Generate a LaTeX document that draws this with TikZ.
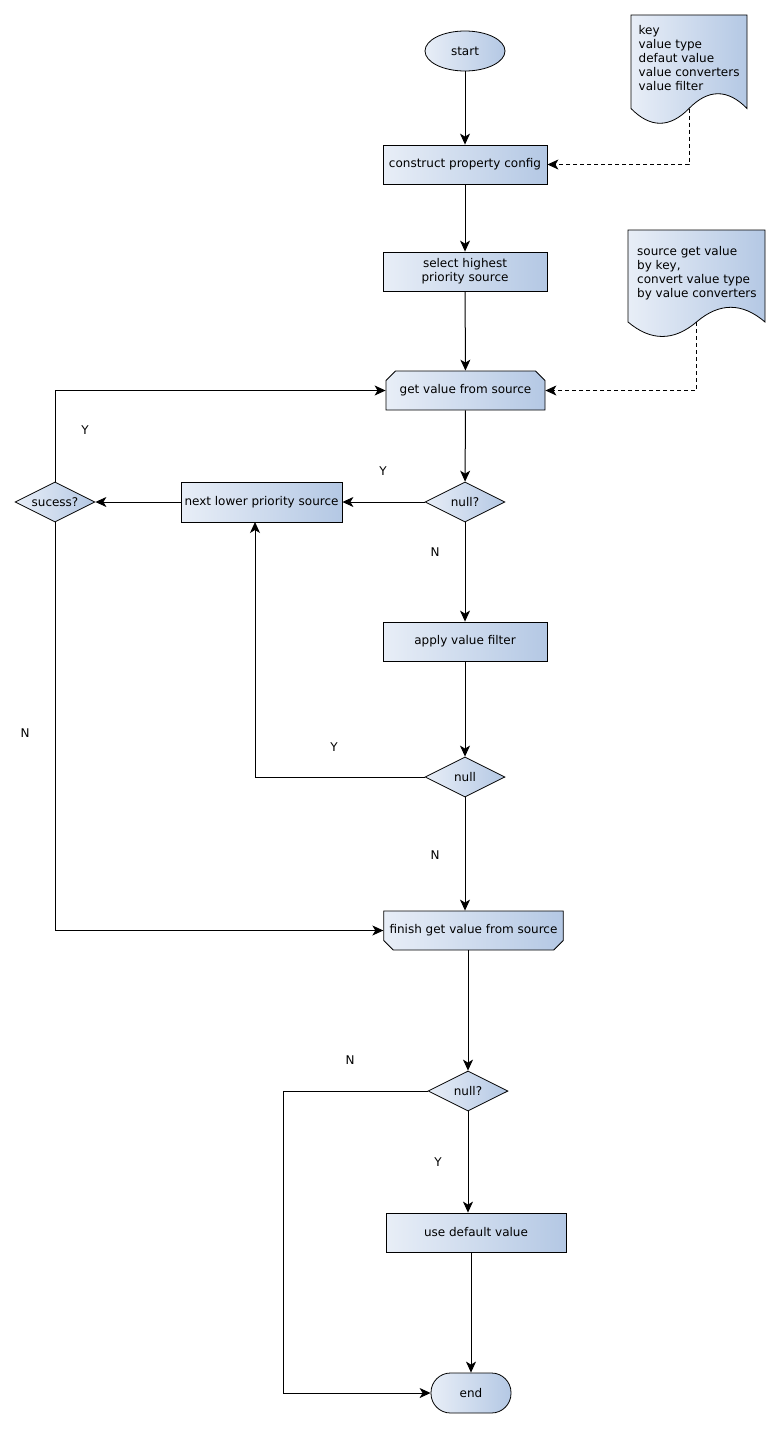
\documentclass[tikz,border=0pt]{standalone}
\usepackage{fontspec}
\setmainfont{DejaVu Sans}
\usetikzlibrary{shapes.geometric,shapes.misc,arrows.meta}
\definecolor{fillL}{HTML}{E8EEF7}
\definecolor{fillR}{HTML}{B4C8E4}
\tikzset{
  arr/.style={-{Stealth[length=11pt,width=10pt,inset=3pt]}, line width=1pt},
  shade/.style={draw, line width=0.8pt, left color=fillL, right color=fillR},
  box/.style={shade, inner sep=0pt, font=\fontsize{12}{14}\selectfont},
  proc/.style={box, rectangle, minimum width=164pt, minimum height=39pt, align=center},
  dec/.style={box, diamond, aspect=2, minimum width=80pt, minimum height=40pt},
  lbl/.style={font=\fontsize{12}{14}\selectfont},
}
\begin{document}
\begin{tikzpicture}[x=1pt, y=-1pt]
  \useasboundingbox (0,0) rectangle (781,1429);

  % notes
  \draw[shade] (631,15) -- (747,15) -- (747,108.5)
    .. controls (727.7,88.8) and (708.3,88.8) .. (689,108.5)
    .. controls (669.7,128.2) and (650.3,128.2) .. (631,108.5) -- cycle;
  \node[lbl, align=left, anchor=north west, inner sep=0pt] (keys) at (638.5,25)
    {key\\value type\\defaut value\\value converters\\value filter};
  \coordinate (keyb) at (689,108.5);

  \draw[shade] (628,230) -- (765,230) -- (765,322)
    .. controls (742.2,302.4) and (719.3,302.4) .. (696.5,322)
    .. controls (673.7,341.3) and (650.8,341.3) .. (628,322) -- cycle;
  \node[lbl, align=left, anchor=north west, inner sep=0pt] (srcnote) at (637,246.5)
    {source get value\\by key,\\convert value type\\by value converters};
  \coordinate (srcb) at (696.5,322);

  % flow
  \node[box, ellipse, minimum width=80pt, minimum height=40pt] (start) at (465,51) {start};
  \node[proc] (cfg) at (465,164.5) {construct property config};
  \node[proc] (sel) at (465,271.5) {select highest\\priority source};
  \node[box, chamfered rectangle, chamfered rectangle corners={north west, north east},
    chamfered rectangle xsep=8pt, minimum width=159pt, minimum height=39pt] (get) at (465.5,390.5) {get value from source};
  \node[dec] (null1) at (465,502) {null?};
  \node[proc, minimum width=161pt, minimum height=40pt] (next) at (261.5,502) {next lower priority source};
  \node[dec] (suc) at (55,502) {sucess?};
  \node[proc] (filt) at (465,641.5) {apply value filter};
  \node[dec] (null2) at (465,777) {null};
  \node[box, chamfered rectangle, chamfered rectangle corners={south west, south east},
    chamfered rectangle xsep=8pt, minimum width=177pt, minimum height=39pt] (fin) at (473.5,930.5) {finish get value from source};
  \node[dec] (null3) at (468,1091) {null?};
  \node[proc, minimum width=180pt] (dflt) at (476,1232.5) {use default value};
  \node[box, rectangle, rounded corners=19.5pt, minimum width=80pt, minimum height=40pt] (stop) at (471,1393) {end};

  \coordinate (nxb) at (255,522);
  \coordinate (finb) at (468,950);
  \coordinate (nlft) at (283,1091);

  \draw[arr] (start) -- (cfg);
  \draw[arr] (cfg) -- (sel);
  \draw[arr] (sel) -- (get);
  \draw[arr] (get) -- (null1);
  \draw[arr] (null1) -- (next);
  \draw[arr] (next) -- (suc);
  \draw[arr] (suc.north) |- (get.west);
  \draw[arr] (null1) -- (filt);
  \draw[arr] (filt) -- (null2);
  \draw[arr] (null2.west) -| (nxb);
  \draw[arr] (null2.south) -- (null2.south |- fin.north);
  \draw[arr] (suc.south) |- (fin.west);
  \draw[arr] (finb) -- (null3.north);
  \draw[arr] (null3.south) -- (null3.south |- dflt.north);
  \draw[arr] (stop.north |- dflt.south) -- (stop.north);
  \draw[arr] (null3.west) -- (nlft) |- (stop.west);
  \draw[arr, dash pattern=on 4pt off 3pt] (keyb) |- (cfg.east);
  \draw[arr, dash pattern=on 4pt off 3pt] (srcb) |- (get.east);

  % branch labels
  \node[lbl] (y1) at (85,430) {Y};
  \node[lbl] (y2) at (383,471) {Y};
  \node[lbl] (n1) at (435,552) {N};
  \node[lbl] (y3) at (334,747) {Y};
  \node[lbl] (n2) at (435,855) {N};
  \node[lbl] (n3) at (25,733) {N};
  \node[lbl] (n4) at (350,1060) {N};
  \node[lbl] (y4) at (438,1162) {Y};
\end{tikzpicture}
\end{document}
